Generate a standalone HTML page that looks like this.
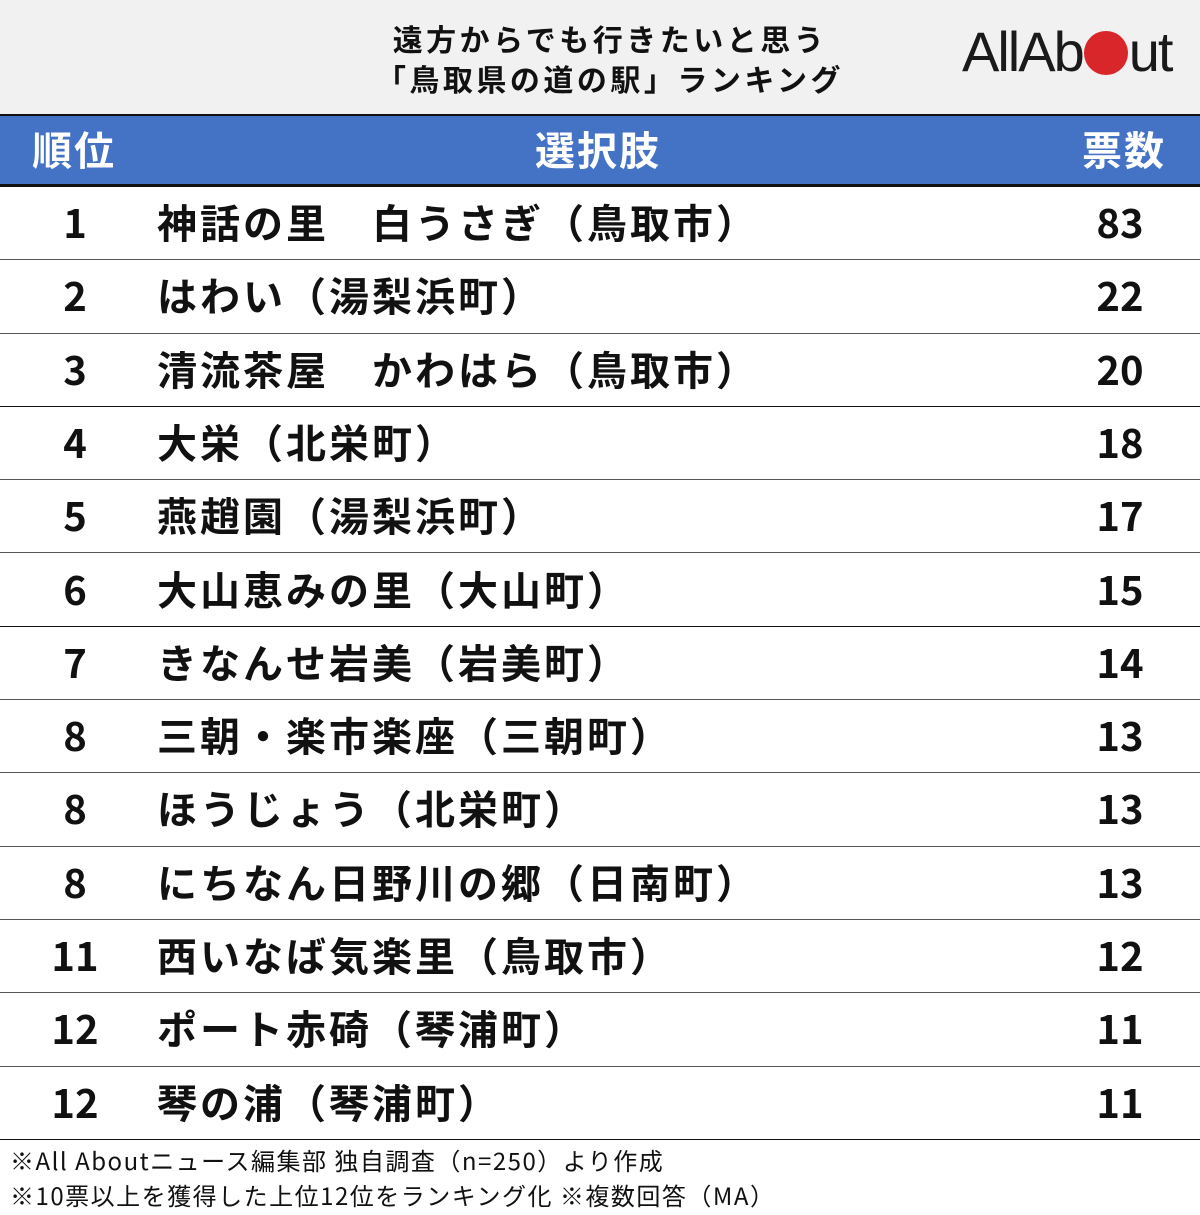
<!DOCTYPE html>
<html><head><meta charset="utf-8"><style>
*{margin:0;padding:0;box-sizing:border-box}
body{width:1200px;height:1215px;background:#fff;font-family:"Liberation Sans","Noto Sans CJK JP",sans-serif;position:relative;overflow:hidden}
.hdr{position:absolute;left:0;top:0;width:1200px;height:114px;background:#f1f1f1}
.title{position:absolute;left:310px;width:600px;top:18px;text-align:center;font-family:"Noto Sans CJK JP",sans-serif;font-weight:700;font-size:30px;line-height:40px;color:#111;letter-spacing:3.5px}
.logo{position:absolute;left:962px;top:22px;font-family:"Liberation Sans",sans-serif;font-size:56px;letter-spacing:-2px;color:#1a1a1a;line-height:60px}
.dot{display:inline-block;width:44px;height:44px;border-radius:50%;background:#d9262a;vertical-align:-4px;margin:0 1px}
.bar{position:absolute;left:0;top:114px;width:1200px;height:73px;background:#4472c4;border-top:2px solid #111;border-bottom:3px solid #111;color:#fff;font-family:"Noto Sans CJK JP",sans-serif;font-weight:700;font-size:40px}
.bar span{position:absolute;top:4px;line-height:56px;letter-spacing:2px}
.row{position:absolute;left:0;width:1200px;height:73.3px;border-bottom:1.5px solid #555;font-family:"Noto Sans CJK JP",sans-serif;font-weight:700;font-size:40px;color:#111}
.row span{position:absolute;top:0;line-height:68px}
.r{left:0;width:150px;text-align:center}
.n{left:157px;letter-spacing:3px}
.v{left:1060px;width:120px;text-align:center}
.foot{position:absolute;left:10px;top:1142px;font-family:"Noto Sans CJK JP",sans-serif;font-size:24px;line-height:35px;color:#111;letter-spacing:1.5px}
</style></head><body>
<div class="hdr"></div>
<div class="title">遠方からでも行きたいと思う<br>「鳥取県の道の駅」ランキング</div>
<div class="logo">AllAb<span class="dot"></span>ut</div>
<div class="bar"><span style="left:32px">順位</span><span style="left:535px">選択肢</span><span style="left:1082px">票数</span></div>
<div class="row" style="top:187px"><span class="r">1</span><span class="n">神話の里　白うさぎ（鳥取市）</span><span class="v">83</span></div>
<div class="row" style="top:260.3px"><span class="r">2</span><span class="n">はわい（湯梨浜町）</span><span class="v">22</span></div>
<div class="row" style="top:333.6px;border-color:#111"><span class="r">3</span><span class="n">清流茶屋　かわはら（鳥取市）</span><span class="v">20</span></div>
<div class="row" style="top:406.9px"><span class="r">4</span><span class="n">大栄（北栄町）</span><span class="v">18</span></div>
<div class="row" style="top:480.2px"><span class="r">5</span><span class="n">燕趙園（湯梨浜町）</span><span class="v">17</span></div>
<div class="row" style="top:553.5px;border-color:#111"><span class="r">6</span><span class="n">大山恵みの里（大山町）</span><span class="v">15</span></div>
<div class="row" style="top:626.8px"><span class="r">7</span><span class="n">きなんせ岩美（岩美町）</span><span class="v">14</span></div>
<div class="row" style="top:700.1px"><span class="r">8</span><span class="n">三朝・楽市楽座（三朝町）</span><span class="v">13</span></div>
<div class="row" style="top:773.4px"><span class="r">8</span><span class="n">ほうじょう（北栄町）</span><span class="v">13</span></div>
<div class="row" style="top:846.7px"><span class="r">8</span><span class="n">にちなん日野川の郷（日南町）</span><span class="v">13</span></div>
<div class="row" style="top:920px"><span class="r">11</span><span class="n">西いなば気楽里（鳥取市）</span><span class="v">12</span></div>
<div class="row" style="top:993.3px"><span class="r">12</span><span class="n">ポート赤碕（琴浦町）</span><span class="v">11</span></div>
<div class="row" style="top:1066.6px;border-color:#111"><span class="r">12</span><span class="n">琴の浦（琴浦町）</span><span class="v">11</span></div>
<div class="foot">※All Aboutニュース編集部 独自調査（n=250）より作成<br>※10票以上を獲得した上位12位をランキング化 ※複数回答（MA）</div>
</body></html>
